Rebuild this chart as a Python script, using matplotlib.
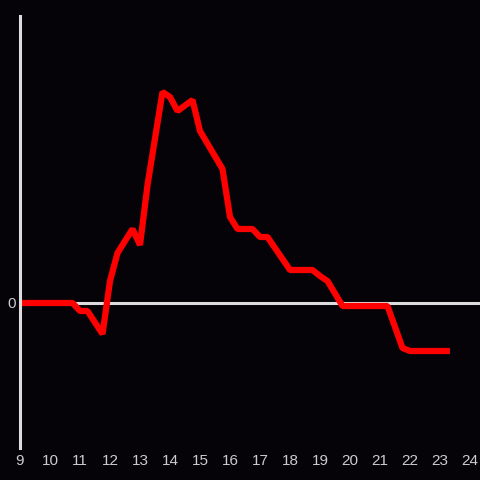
import matplotlib
matplotlib.use("Agg")
import matplotlib.pyplot as plt

hours = [9.0, 10.75, 11.0, 11.25, 11.75, 12.0, 12.25, 12.75, 13.0, 13.25, 13.75,
         14.0, 14.25, 14.75, 15.0, 15.75, 16.0, 16.25, 16.75, 17.0, 17.25,
         18.0, 18.75, 19.0, 19.25, 19.75, 21.25, 21.75, 22.0, 23.33]
values = [0, 0, -8, -8, -31, 22, 50, 74, 58, 118, 211,
          206, 192, 203, 172, 134, 86, 74, 74, 66, 66,
          33, 33, 27, 22, -3, -3, -45, -48, -48]
xticks = list(range(9, 25))
yticks = [0]

bg = "#050308"
fig = plt.figure(figsize=(4.8, 4.8), dpi=100, facecolor=bg)
ax = fig.add_axes([20/480, 32/480, 460/480, 432/480], facecolor=bg)

ax.plot(hours, values, color="#ff0000", linewidth=4.5, solid_joinstyle="bevel",
        solid_capstyle="butt", zorder=3)
ax.axhline(0, color="#dddddd", linewidth=2.2, zorder=2)

ax.set_xlim(9, 24.333)
ax.set_ylim(-145, 287)
for s in ["top", "right", "bottom"]:
    ax.spines[s].set_visible(False)
ax.spines["left"].set_color("#dddddd")
ax.spines["left"].set_linewidth(2.2)
ax.spines["left"].set_zorder(4)

ax.set_xticks(xticks)
ax.set_xticklabels([str(t) for t in xticks])
ax.set_yticks(yticks)
ax.set_yticklabels(["0"])
ax.tick_params(axis="both", length=0, colors="#cccccc", labelsize=11)
ax.tick_params(axis="x", pad=4)
ax.tick_params(axis="y", pad=3)
for lab in ax.get_xticklabels() + ax.get_yticklabels():
    lab.set_fontfamily("Liberation Sans")

fig.savefig("out.png", dpi=100, facecolor=bg)
